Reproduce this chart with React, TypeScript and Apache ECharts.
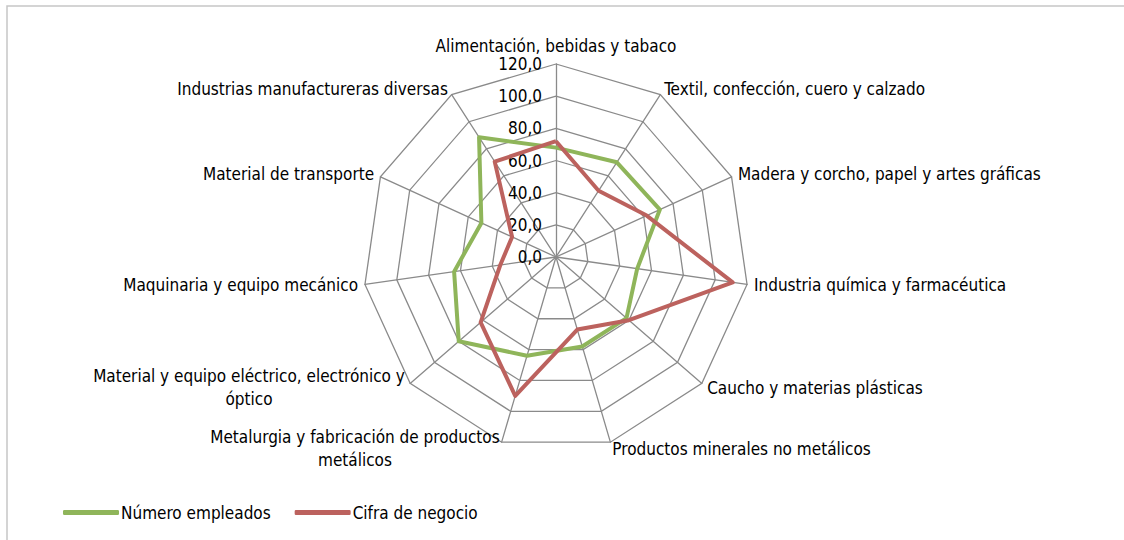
import React, { useEffect, useRef } from "react";
import * as echarts from "echarts";

// Categories in clockwise order starting at the top
const categories: string[] = [
  "Alimentación, bebidas y tabaco",
  "Textil, confección, cuero y calzado",
  "Madera y corcho, papel y artes gráficas",
  "Industria química y farmacéutica",
  "Caucho y materias plásticas",
  "Productos minerales no metálicos",
  "Metalurgia y fabricación de productos\nmetálicos",
  "Material y equipo eléctrico, electrónico y\nóptico",
  "Maquinaria y equipo mecánico",
  "Material de transporte",
  "Industrias manufactureras diversas",
];

const numeroEmpleados: number[] = [68, 70, 71, 51, 58, 58, 64, 80, 64, 51, 88.5];
const cifraNegocio: number[] = [72, 49, 62, 111, 60, 47, 90, 62, 35, 30, 70.5];

const seriesNames: string[] = ["Número empleados", "Cifra de negocio"];
const axisMax = 120;
const axisSplits = 6;

const FONT = "'DejaVu Sans Condensed', 'Liberation Sans Narrow', sans-serif";
const FS = 17;
const GREEN = "#8FB55A";
const RED = "#BC625E";

// ECharts lays indicators counter-clockwise; reorder so they appear clockwise
const order: number[] = categories.map((_, i) => (i === 0 ? 0 : categories.length - i));

const fmt = (v: number) => v.toFixed(1).replace(".", ",");

export default function App() {
  const ref = useRef<HTMLDivElement>(null);
  useEffect(() => {
    if (!ref.current) return;
    const chart = echarts.init(ref.current, undefined, { renderer: "svg" });
    const indicator = order.map((idx, k) => {
      const ind: any = { name: categories[idx], min: 0, max: axisMax };
      if (k === 0) {
        ind.axisLabel = {
          show: true,
          formatter: (v: number) => fmt(v),
          color: "#000",
          fontSize: FS,
          fontFamily: FONT,
          margin: 14,
          padding: [3, 0, 0, 0],
        };
      }
      return ind;
    });
    chart.setOption({
      animation: false,
      backgroundColor: "#fff",
      graphic: [
        {
          type: "rect",
          shape: { x: 7, y: 6, width: 1140, height: 560 },
          style: { fill: "none", stroke: "#c6c6c6", lineWidth: 1.5 },
          silent: true,
        },
      ],
      legend: {
        data: seriesNames,
        left: 58,
        top: 499,
        itemWidth: 56,
        itemHeight: 5,
        itemGap: 24,
        icon: "roundRect",
        textStyle: { color: "#000", fontSize: FS, fontFamily: FONT, padding: [0, 0, 0, -3] },
      },
      radar: {
        center: [556, 257],
        radius: 193,
        startAngle: 90,
        splitNumber: axisSplits,
        shape: "polygon",
        nameGap: 7,
        axisName: {
          color: "#000",
          fontSize: FS,
          fontFamily: FONT,
          formatter: (name: string) =>
            name
              .split("\n")
              .map((l) => `{c|${l}}`)
              .join("\n"),
          rich: {
            c: { align: "center", fontSize: FS, fontFamily: FONT, color: "#000", lineHeight: 23 },
          },
        },
        axisLine: { lineStyle: { color: "#8a8a8a", width: 1.3 } },
        splitLine: { lineStyle: { color: "#8a8a8a", width: 1.3 } },
        splitArea: { show: false },
        axisTick: { show: false },
        axisLabel: { show: false },
        indicator,
      },
      series: [
        {
          type: "radar",
          symbol: "none",
          data: [
            {
              name: seriesNames[0],
              value: order.map((i) => numeroEmpleados[i]),
              lineStyle: { color: GREEN, width: 4 },
              itemStyle: { color: GREEN },
            },
            {
              name: seriesNames[1],
              value: order.map((i) => cifraNegocio[i]),
              lineStyle: { color: RED, width: 4 },
              itemStyle: { color: RED },
            },
          ],
        },
      ],
    });
    return () => chart.dispose();
  }, []);
  return (
    <div
      ref={ref}
      style={{ position: "absolute", left: 0, top: 0, width: 1124, height: 540 }}
    />
  );
}
